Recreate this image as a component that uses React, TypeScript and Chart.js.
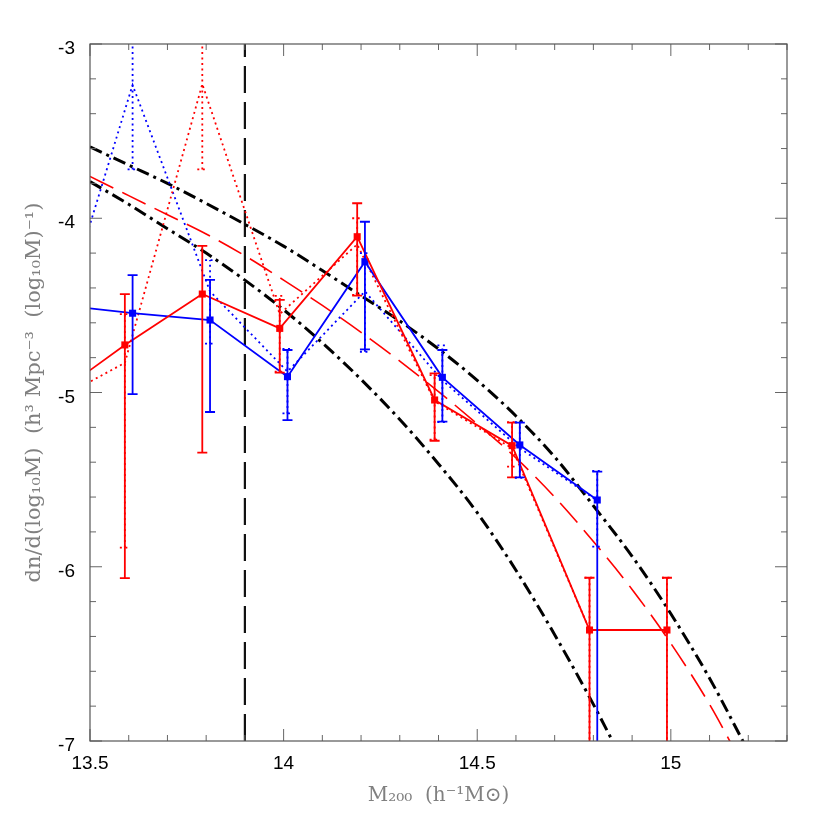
import { useEffect, useRef } from 'react';
import { Chart, registerables } from 'chart.js';

Chart.register(...registerables);

// Theoretical curves
const curveX = [13.5, 13.6, 13.7, 13.8, 13.9, 14.0, 14.1, 14.2, 14.3, 14.4, 14.5, 14.6, 14.7, 14.8, 14.9, 15.0, 15.1, 15.2];
const upperCurve = [-3.59, -3.695, -3.8, -3.915, -4.035, -4.16, -4.3, -4.445, -4.59, -4.75, -4.93, -5.135, -5.37, -5.65, -5.94, -6.27, -6.64, -7.06];
const lowerCurve = [-3.79, -3.92, -4.06, -4.2, -4.355, -4.525, -4.715, -4.925, -5.155, -5.41, -5.69, -6.02, -6.39, -6.79, -7.22];
const dashedCurve = [-3.76, -3.87, -3.98, -4.09, -4.215, -4.355, -4.5, -4.655, -4.82, -4.995, -5.18, -5.375, -5.6, -5.855, -6.13, -6.44, -6.79, -7.2];

// Red measurements
const redX = [13.39, 13.59, 13.79, 13.99, 14.19, 14.39, 14.59, 14.79, 14.99];
const redY = [-5.05, -4.727, -4.435, -4.632, -4.106, -5.043, -5.305, -6.363, -6.363];
const redLo = [null, -6.065, -5.345, -4.886, -4.444, -5.277, -5.487, -8, -8];
const redHi = [null, -4.435, -4.159, -4.469, -3.914, -4.89, -5.173, -6.063, -6.063];
const redDotY = [-5.07, -4.83, -3.23, -4.55, -4.15, -5.05, -5.32, -6.363, -6.363];
const redDotLo = [null, -5.89, -3.72, -4.88, -4.44, -5.27, -5.425, -8, -8];
const redDotHi = [null, -4.55, -2.5, -4.446, -4.0, -4.9, -5.17, -6.063, -6.063];

// Blue measurements
const blueX = [13.41, 13.61, 13.81, 14.01, 14.21, 14.41, 14.61, 14.81];
const blueY = [-4.495, -4.545, -4.584, -4.909, -4.249, -4.913, -5.301, -5.617];
const blueLo = [null, -5.009, -5.112, -5.158, -4.752, -5.167, -5.487, -8];
const blueHi = [null, -4.326, -4.354, -4.756, -4.02, -4.756, -5.173, -5.454];
const blueDotY = [-4.69, -3.235, -4.42, -4.88, -4.42, -4.93, -5.32, -5.62];
const blueDotLo = [null, -3.72, -4.72, -5.12, -4.766, -5.17, -5.49, -5.885];
const blueDotHi = [null, -2.5, -4.24, -4.75, -4.2, -4.73, -5.17, -5.45];

// Mass cut
const cutX = [13.9, 13.9];
const cutY = [-7, -3];

const xMajorLabels = ['13.5', '14', '14.5', '15'];
const yMajorLabels = ['-7', '-6', '-5', '-4', '-3'];

const RED = '#ff0000';
const BLUE = '#0000ff';

const pts = (xs: number[], ys: number[]) => ys.map((y, i) => ({ x: xs[i], y }));
const isMult = (v: number, s: number) => Math.abs(v / s - Math.round(v / s)) < 1e-6;

const errorBarPlugin = {
  id: 'errorBars',
  afterDatasetsDraw(chart: any) {
    const { ctx, chartArea: a, scales } = chart;
    const xs = scales.x, ys = scales.y;
    ctx.save();
    ctx.beginPath();
    ctx.rect(a.left, a.top, a.right - a.left, a.bottom - a.top);
    ctx.clip();
    chart.data.datasets.forEach((ds: any) => {
      const eb = ds.errorBars;
      if (!eb) return;
      ctx.strokeStyle = ds.borderColor;
      ctx.lineWidth = eb.width;
      ctx.setLineDash(eb.dash || []);
      const cap = 5;
      eb.xs.forEach((xv: number, k: number) => {
        if (eb.lo[k] == null) return;
        const px = xs.getPixelForValue(xv);
        const pl = ys.getPixelForValue(eb.lo[k]);
        const ph = ys.getPixelForValue(eb.hi[k]);
        ctx.beginPath();
        ctx.moveTo(px, pl); ctx.lineTo(px, ph);
        ctx.moveTo(px - cap, pl); ctx.lineTo(px + cap, pl);
        ctx.moveTo(px - cap, ph); ctx.lineTo(px + cap, ph);
        ctx.stroke();
      });
    });
    ctx.restore();
  },
};

const framePlugin = {
  id: 'frame',
  afterDraw(chart: any) {
    const { ctx, chartArea: a, scales } = chart;
    const xs = scales.x, ys = scales.y;
    ctx.save();
    ctx.setLineDash([]);
    ctx.strokeStyle = '#666';
    ctx.lineWidth = 1;
    const line = (x1: number, y1: number, x2: number, y2: number) => {
      ctx.beginPath(); ctx.moveTo(x1, y1); ctx.lineTo(x2, y2); ctx.stroke();
    };
    xs.ticks.forEach((t: any) => {
      const len = isMult(t.value, 0.5) ? 12 : 6;
      const px = xs.getPixelForValue(t.value);
      line(px, a.bottom, px, a.bottom - len);
      line(px, a.top, px, a.top + len);
    });
    ys.ticks.forEach((t: any) => {
      const len = isMult(t.value, 1) ? 12 : 6;
      const py = ys.getPixelForValue(t.value);
      line(a.left, py, a.left + len, py);
      line(a.right, py, a.right - len, py);
    });
    ctx.strokeStyle = '#555';
    ctx.lineWidth = 1.2;
    ctx.strokeRect(a.left, a.top, a.right - a.left, a.bottom - a.top);
    ctx.restore();
  },
};

export default function App() {
  const ref = useRef<HTMLCanvasElement | null>(null);

  useEffect(() => {
    if (!ref.current) return;
    const dotted = [2, 3.5];
    const chart = new Chart(ref.current, {
      type: 'scatter',
      data: {
        datasets: [
          {
            data: pts(redX, redY), showLine: true, borderColor: RED, backgroundColor: RED,
            borderWidth: 1.8, pointStyle: 'rect', pointRadius: 5, pointBorderWidth: 0,
            errorBars: { xs: redX, lo: redLo, hi: redHi, width: 1.8 },
          } as any,
          {
            data: pts(blueX, blueY), showLine: true, borderColor: BLUE, backgroundColor: BLUE,
            borderWidth: 1.8, pointStyle: 'rect', pointRadius: 5, pointBorderWidth: 0,
            errorBars: { xs: blueX, lo: blueLo, hi: blueHi, width: 1.8 },
          } as any,
          {
            data: pts(redX, redDotY), showLine: true, borderColor: RED, backgroundColor: RED,
            borderWidth: 1.8, borderDash: dotted, pointRadius: 0,
            errorBars: { xs: redX, lo: redDotLo, hi: redDotHi, width: 1.8, dash: dotted },
          } as any,
          {
            data: pts(blueX, blueDotY), showLine: true, borderColor: BLUE, backgroundColor: BLUE,
            borderWidth: 1.8, borderDash: dotted, pointRadius: 0,
            errorBars: { xs: blueX, lo: blueDotLo, hi: blueDotHi, width: 1.8, dash: dotted },
          } as any,
          {
            data: pts(curveX, upperCurve), showLine: true, borderColor: '#000', borderWidth: 3,
            borderDash: [13, 5, 3, 5], pointRadius: 0, cubicInterpolationMode: 'monotone',
          },
          {
            data: pts(curveX, lowerCurve), showLine: true, borderColor: '#000', borderWidth: 3,
            borderDash: [13, 5, 3, 5], pointRadius: 0, cubicInterpolationMode: 'monotone',
          },
          {
            data: pts(curveX, dashedCurve), showLine: true, borderColor: RED, borderWidth: 1.6,
            borderDash: [26, 10], pointRadius: 0, cubicInterpolationMode: 'monotone',
          },
          {
            data: pts(cutX, cutY), showLine: true, borderColor: '#111', borderWidth: 2.2,
            borderDash: [27, 9], pointRadius: 0,
          },
        ],
      },
      options: {
        animation: false,
        responsive: false,
        maintainAspectRatio: false,
        layout: { padding: { left: 0, right: 35, top: 36, bottom: 0 } },
        plugins: { legend: { display: false }, tooltip: { enabled: false } },
        scales: {
          x: {
            type: 'linear', min: 13.5, max: 15.3,
            afterFit: (s: any) => { s.height = 81; },
            grid: { display: false, drawTicks: false },
            border: { display: false },
            ticks: {
              stepSize: 0.1, autoSkip: false, maxRotation: 0, padding: 11,
              color: '#000', font: { family: 'Liberation Sans', size: 19 },
              callback: (v: any) => {
                const n = Number(v);
                if (!isMult(n, 0.5)) return '';
                return xMajorLabels[Math.round((n - 13.5) / 0.5)] ?? '';
              },
            },
            title: {
              display: true, text: 'M₂₀₀  (h⁻¹M⊙)', color: '#808080',
              font: { family: 'DejaVu Serif', size: 20 }, padding: { top: 0, bottom: 14 },
            },
          },
          y: {
            type: 'linear', min: -7, max: -3,
            afterFit: (s: any) => { s.width = 82; },
            grid: { display: false, drawTicks: false },
            border: { display: false },
            ticks: {
              stepSize: 0.2, autoSkip: false, padding: 15, labelOffset: 5,
              color: '#000', font: { family: 'Liberation Sans', size: 19 },
              callback: (v: any) => {
                const n = Number(v);
                if (!isMult(n, 1)) return '';
                return yMajorLabels[Math.round(n + 7)] ?? '';
              },
            },
            title: {
              display: true, text: 'dn/d(log₁₀M)  (h³ Mpc⁻³  (log₁₀M)⁻¹)', color: '#808080',
              font: { family: 'DejaVu Serif', size: 21 }, padding: { top: 14, bottom: 0 },
            },
          },
        },
      } as any,
      plugins: [errorBarPlugin, framePlugin],
    });
    return () => chart.destroy();
  }, []);

  return (
    <div style={{ width: 814, height: 814 }}>
      <canvas ref={ref} width={814} height={814} style={{ display: 'block' }} />
    </div>
  );
}
